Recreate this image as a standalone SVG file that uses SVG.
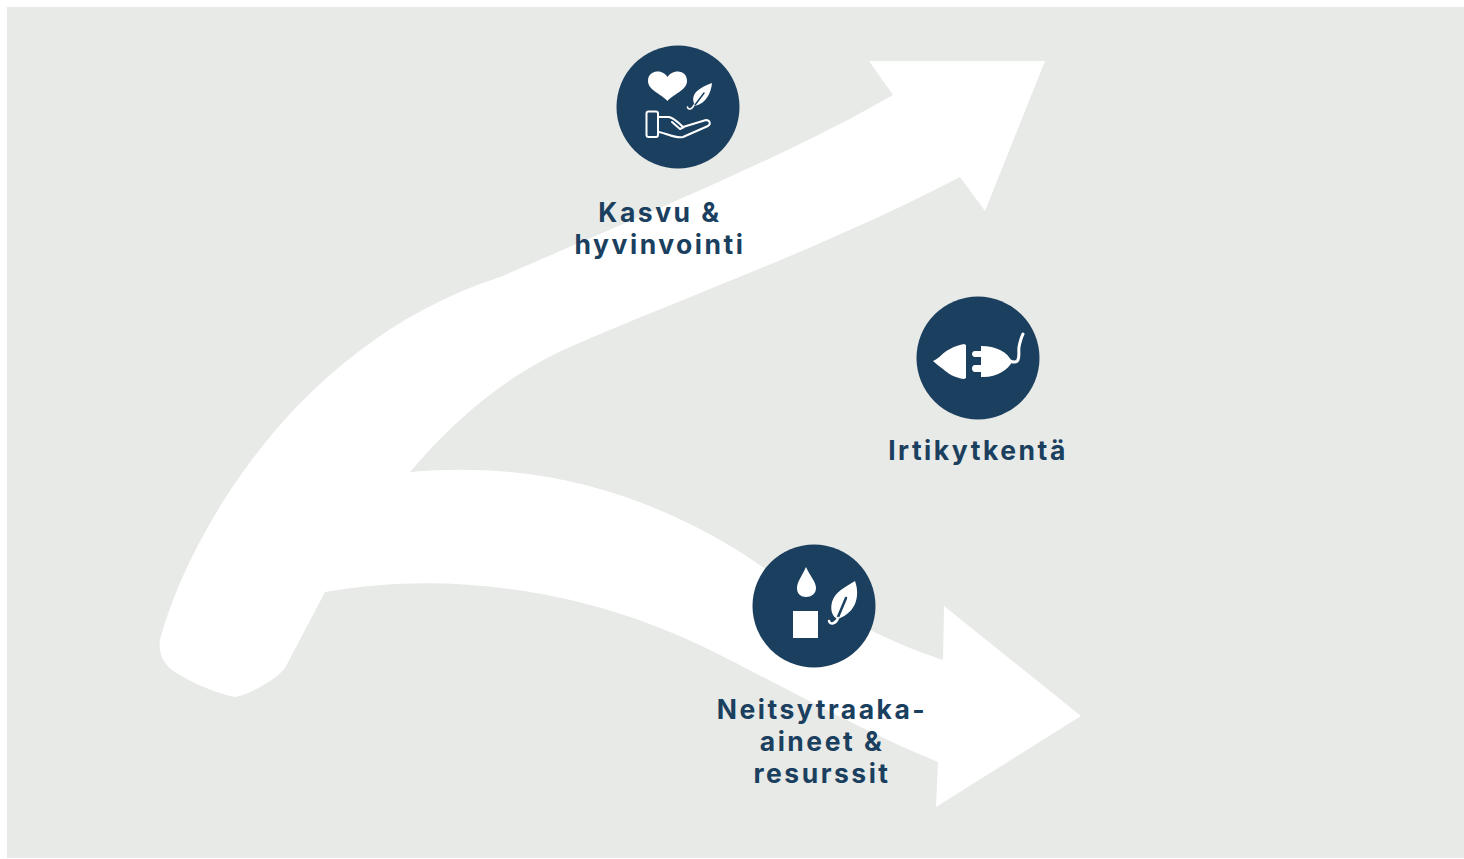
<svg xmlns="http://www.w3.org/2000/svg" width="1464" height="859" viewBox="0 0 1464 859">
<style>
.disc{fill:#1b3f5e}
.g{fill:#fff}
.o{fill:none;stroke:#fff;stroke-linecap:round;stroke-linejoin:round}
.v{fill:none;stroke:#1b3f5e;stroke-linecap:round}
.t{font-family:Inter,"Open Sans","Liberation Sans",sans-serif;font-weight:700;font-size:26.5px;letter-spacing:2.5px;fill:#1b3f5e;text-anchor:middle}
</style>
<rect width="1464" height="859" fill="#fff"/>
<rect x="7" y="7" width="1457" height="851" fill="#e8eae7"/>
<g id="connectors">
<path class="g" d="M160 640C185 545 290 345 500 277C620 225 790 155 893 95L869 61L1045 61L985 211L960 177C830 245 690 295 570 347C500 378 450 425 410 472C540 460 650 495 745 555C810 600 880 640 943 660L944 606L1081 716L936 807L938 762C870 735 780 685 710 650C590 590 450 570 325 592L285 668C278 678 250 695 235 697C215 693 190 682 175 672C163 664 158 652 160 640Z"/>
</g>
<g id="node-kasvu">
<circle class="disc" cx="678" cy="107" r="61.5"/>
<path class="g" d="M667.500 101C660 93 648 90 648 81C648 74 653 71.500 658 71.500C662 71.500 666 74 667.500 77C669 74 673 71.500 678 71.500C683 71.500 687 75 687 81C687 90 675 93 667.500 101Z"/>
<path class="g" d="M712 83C711 92 707 103 695 106C692 100 693 96 696 92C700 88 706 85 712 83Z"/>
<path class="v" stroke-width="1.5" d="M695 105L704 93"/>
<path class="o" stroke-width="1.6" d="M694 105C692 110 688 110 687.500 107"/>
<rect class="o" stroke-width="2" x="646.500" y="111.500" width="11.500" height="25.500" rx="2"/>
<path class="o" stroke-width="2" d="M658 117H669C674 118 679 123 683 127L706 120C710 120 711 124 708 126L683 137C675 139 667 133 658 132M672 122L680 129L684 127"/>
</g>
<g id="node-irtikytkenta">
<circle class="disc" cx="978" cy="358" r="61.5"/>
<path class="g" d="M933 361C940 358 943 352 950 349C955 346 960 345 964 344L966 345V378L964 379C955 378 947 373 943 369C939 366 936 364 933 361Z"/>
<path class="g" d="M981 346C996 346 1008 352 1012 362C1008 370 996 378 981 377V372H975C971 372 971 365 975 365H981V357H975C971 357 971 351 975 351H981Z"/>
<path class="o" stroke-width="3" d="M1010 361C1022 366 1018 352 1019 347C1020 342 1021 338 1023 334"/>
</g>
<g id="node-neitsyt">
<circle class="disc" cx="814" cy="606" r="61.5"/>
<path class="g" d="M806 567C810 576 816 582 816 588C816 594 811 597 806 597C801 597 797 594 797 588C797 582 802 576 806 567Z"/>
<rect class="g" x="793" y="611" width="25" height="27"/>
<path class="g" d="M855 581C860 595 857 612 838 619C832 617 830 610 832 602C835 592 845 587 855 581Z"/>
<path class="v" stroke-width="2.500" d="M838 617L846 598"/>
<path class="o" stroke-width="2.500" d="M838 618C836 624 830 625 829 621"/>
</g>
<g id="labels">
<text class="t" x="660" y="222">Kasvu &amp;</text>
<text class="t" x="660" y="254">hyvinvointi</text>
<text class="t" x="978" y="460">Irtikytkentä</text>
<text class="t" x="822" y="719">Neitsytraaka-</text>
<text class="t" x="822" y="751">aineet &amp;</text>
<text class="t" x="822" y="783">resurssit</text>
</g>
</svg>
